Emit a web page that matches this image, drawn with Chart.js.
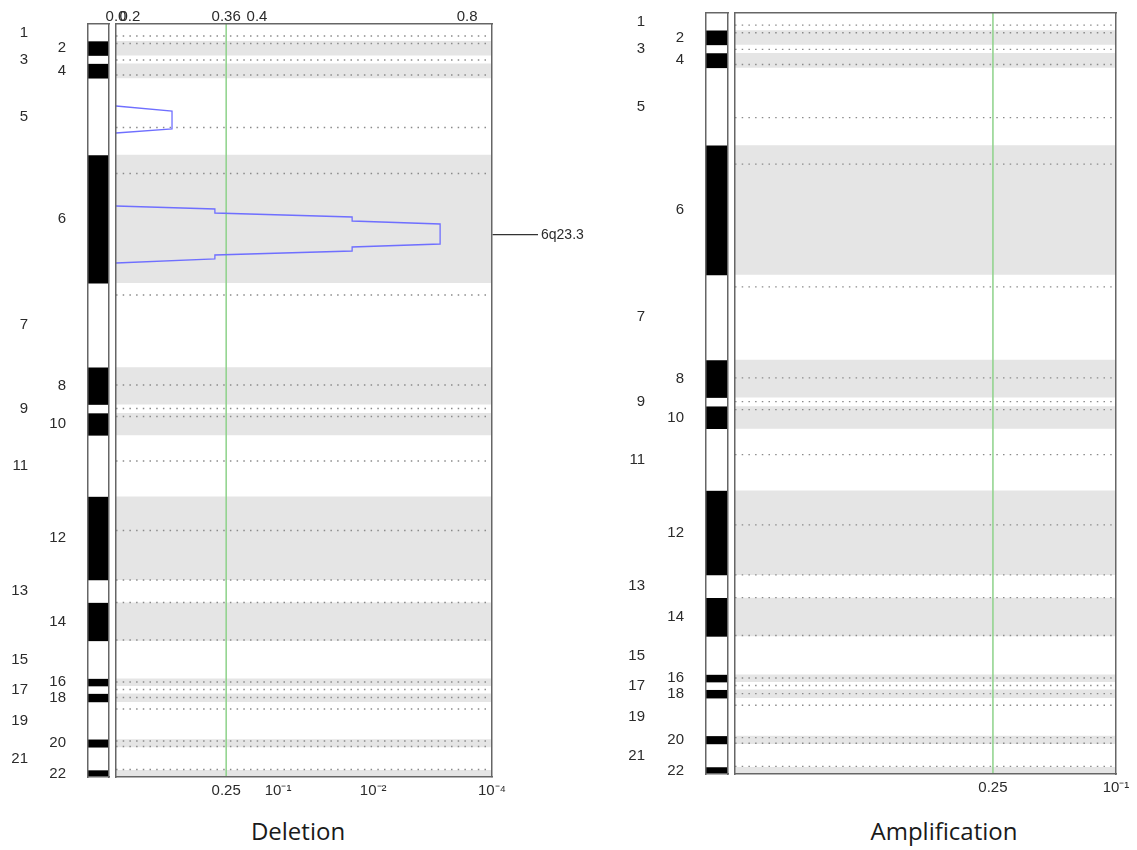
<!DOCTYPE html>
<html>
<head>
<meta charset="utf-8">
<script src="https://cdn.jsdelivr.net/npm/chart.js@4.4.1/dist/chart.umd.min.js"></script>
<style>
  body { margin: 0; background: #fff; width: 1137px; height: 850px; overflow: hidden; position: relative; }
  canvas { position: absolute; top: 0; }
  .panel-title { position: absolute; top: 815px; line-height: 32px; font-family: 'Open Sans', sans-serif; font-size: 24px; color: #1a1a1a; transform: translateX(-50%); white-space: nowrap; }
</style>
</head>
<body>
<canvas id="delIdeo" width="112" height="800" style="left:0px"></canvas>
<canvas id="delPlot" width="500" height="807" style="left:100px"></canvas>
<canvas id="ampIdeo" width="112" height="800" style="left:618px"></canvas>
<canvas id="ampPlot" width="417" height="804" style="left:720px"></canvas>
<div class="panel-title" style="left:298px">Deletion</div>
<div class="panel-title" style="left:944px">Amplification</div>
<script>
// genome laid out top to bottom, in plot units (marker positions)
const chromNames = ['1', '2', '3', '4', '5', '6', '7', '8', '9', '10', '11',
  '12', '13', '14', '15', '16', '17', '18', '19', '20', '21', '22'];
const chromBounds = [0, 17, 31.5, 39.5, 54.2, 130.8, 259.1, 343.2, 380.5, 389, 411.3,
  472.5, 556, 578.5, 616.8, 654.5, 662, 669.5, 677.9, 715.2, 723.2, 746, 753];
const centromerePos = [12, 19.5, 36, 51, 103.5, 149.5, 271, 361, 384.5, 392.5, 437,
  506.5, 556, 578.5, 616, 658, 665.5, 673.5, 685, 717, 722.5, 745.5];
const genomeEnd = 753;

// deletion q-value profile (score axis 0..1, left edge = no signal), null = gap
const delCurvePos = [82, 87, 105, 109, null, 182, 185, 189, 193, 197, 200, 220, 223, 227, 231, 235, 239];
const delCurveScore = [0, 0.149, 0.149, 0, 0, 0, 0.263, 0.263, 0.628, 0.628, 0.862, 0.862, 0.628, 0.628, 0.263, 0.263, 0];

const delTopTicks = [0, 0.037, 0.293, 0.375, 0.934];
const delTopLabels = ['0.0', '0.2', '0.36', '0.4', '0.8'];
const delBottomTicks = [0.293, 0.431, 0.684, 1];
const delBottomLabels = ['0.25', '10⁻¹', '10⁻²', '10⁻⁴'];
const delThreshold = 0.293;
const delPeakPos = [211];
const delPeakLabels = ['6q23.3'];

const ampBottomTicks = [0.677, 1];
const ampBottomLabels = ['0.25', '10⁻¹'];
const ampThreshold = 0.677;

const frameColor = '#666';
const frameWidth = 1.5;
const bandColor = '#e5e5e5';
const labelColor = '#2b2b2b';

Chart.defaults.font.family = "'Liberation Sans', Arial, sans-serif";
Chart.defaults.color = labelColor;

const chromMids = chromNames.map((_, i) => (chromBounds[i] + chromBounds[i + 1]) / 2);
const oddIdx = chromNames.map((_, i) => i).filter((i) => i % 2 === 0);
const evenIdx = chromNames.map((_, i) => i).filter((i) => i % 2 === 1);

function frame() {
  return { display: true, color: frameColor, width: frameWidth, z: 1 };
}

function bareAxis(position, type, size) {
  const horizontal = position === 'top' || position === 'bottom';
  const axis = {
    type,
    position,
    ticks: { display: false },
    grid: { display: false, drawTicks: false },
    border: frame(),
    afterFit: (s) => {
      if (horizontal) s.height = size;
      else s.width = size;
    },
  };
  if (type === 'linear') {
    axis.min = 0;
    axis.max = horizontal ? 1 : genomeEnd;
    if (!horizontal) axis.reverse = true;
  }
  return axis;
}

function labelAxis(indices, pad, width, weight) {
  return {
    type: 'linear',
    position: 'left',
    weight,
    min: 0,
    max: genomeEnd,
    reverse: true,
    grid: { display: false, drawTicks: false },
    border: weight === 0 ? frame() : { display: false },
    ticks: {
      padding: pad,
      autoSkip: false,
      font: { size: 15 },
      callback: (v, i) => chromNames[indices[i]],
    },
    afterBuildTicks: (s) => { s.ticks = indices.map((i) => ({ value: chromMids[i] })); },
    afterFit: (s) => {
      s.width = width;
      // labels sit inside the genome range, no need to shrink the plot for them
      s.paddingTop = 0;
      s.paddingBottom = 0;
    },
  };
}

function makeIdeogram(id, opt) {
  const datasets = chromNames.map((name, i) => ({
    label: 'chr' + name,
    data: [[chromBounds[i], chromBounds[i + 1]]],
    backgroundColor: i % 2 ? '#000' : '#fff',
    borderWidth: 0,
    grouped: false,
    barPercentage: 1,
    categoryPercentage: 1,
    yAxisID: 'yEven',
  }));
  return new Chart(document.getElementById(id), {
    type: 'bar',
    data: { labels: ['genome'], datasets },
    options: {
      responsive: false,
      animation: false,
      events: [],
      layout: { padding: { top: opt.top, bottom: opt.bottom, left: 0, right: opt.right } },
      plugins: { legend: { display: false }, tooltip: { enabled: false } },
      scales: {
        x: bareAxis('bottom', 'category', 0),
        xTop: bareAxis('top', 'linear', 0),
        yEven: labelAxis(evenIdx, opt.evenPad, 42, 0),
        yOdd: labelAxis(oddIdx, opt.oddPad, 46, 1),
        yRight: bareAxis('right', 'linear', 0),
      },
    },
  });
}

function tickAxis(position, ticks, labels, pad, size) {
  return {
    type: 'linear',
    position,
    min: 0,
    max: 1,
    grid: { display: false, drawTicks: false },
    border: frame(),
    ticks: {
      padding: pad,
      autoSkip: false,
      maxRotation: 0,
      font: { size: 15 },
      callback: (v, i) => labels[i],
    },
    afterBuildTicks: (s) => { s.ticks = ticks.map((v) => ({ value: v })); },
    afterFit: (s) => { s.height = size; },
  };
}

function makePlot(id, opt) {
  const datasets = [];
  if (opt.curvePos) {
    datasets.push({
      data: opt.curvePos.map((p, i) => ({ x: opt.curveScore[i], y: p })),
      borderColor: '#6f6fff',
      borderWidth: 1.3,
      pointRadius: 0,
      spanGaps: false,
      fill: false,
      order: 0,
    });
  }
  datasets.push({
    data: [{ x: opt.threshold, y: 0 }, { x: opt.threshold, y: genomeEnd }],
    borderColor: '#8ed28a',
    borderWidth: 1.5,
    pointRadius: 0,
    fill: false,
    order: 1,
  });
  const dots = [];
  centromerePos.forEach((c) => { dots.push({ x: 0, y: c }, { x: 1, y: c }, { x: 1, y: null }); });
  datasets.push({
    data: dots,
    borderColor: '#8a8a8a',
    borderWidth: 1.4,
    borderDash: [1.5, 5.2],
    pointRadius: 0,
    spanGaps: false,
    fill: false,
    order: 2,
  });
  evenIdx.forEach((i) => {
    datasets.push({
      data: [{ x: 0, y: chromBounds[i] }, { x: 1, y: chromBounds[i] }],
      fill: { value: chromBounds[i + 1] },
      backgroundColor: bandColor,
      borderColor: 'rgba(0,0,0,0)',
      borderWidth: 0,
      pointRadius: 0,
      order: 3,
    });
  });

  let yRight = bareAxis('right', 'linear', opt.rightWidth);
  if (opt.peakPos) {
    yRight = {
      type: 'linear',
      position: 'right',
      min: 0,
      max: genomeEnd,
      reverse: true,
      border: frame(),
      grid: { display: true, drawOnChartArea: false, drawTicks: true, tickLength: 46, color: '#333', lineWidth: 1.3 },
      ticks: { padding: 3, autoSkip: false, font: { size: 14 }, callback: (v, i) => opt.peakLabels[i] },
      afterBuildTicks: (s) => { s.ticks = opt.peakPos.map((v) => ({ value: v })); },
      afterFit: (s) => {
        s.width = opt.rightWidth;
        s.paddingTop = 0;
        s.paddingBottom = 0;
      },
    };
  }

  return new Chart(document.getElementById(id), {
    type: 'line',
    data: { datasets },
    options: {
      responsive: false,
      animation: false,
      events: [],
      layout: { padding: { top: opt.top, bottom: 0, left: opt.left, right: 0 } },
      plugins: { legend: { display: false }, tooltip: { enabled: false } },
      scales: {
        x: tickAxis('bottom', opt.bottomTicks, opt.bottomLabels, 5, 30),
        xTop: opt.topTicks ? tickAxis('top', opt.topTicks, opt.topLabels, -2, 24) : bareAxis('top', 'linear', 0),
        yl: bareAxis('left', 'linear', 0),
        y: yRight,
      },
    },
  });
}

makeIdeogram('delIdeo', { top: 24, bottom: 23, right: 3, oddPad: 18, evenPad: 22 });
makePlot('delPlot', {
  top: 0, left: 16, rightWidth: 108,
  curvePos: delCurvePos, curveScore: delCurveScore,
  threshold: delThreshold,
  topTicks: delTopTicks, topLabels: delTopLabels,
  bottomTicks: delBottomTicks, bottomLabels: delBottomLabels,
  peakPos: delPeakPos, peakLabels: delPeakLabels,
});

makeIdeogram('ampIdeo', { top: 13, bottom: 26, right: 2, oddPad: 19, evenPad: 22 });
makePlot('ampPlot', {
  top: 13, left: 15, rightWidth: 21,
  threshold: ampThreshold,
  bottomTicks: ampBottomTicks, bottomLabels: ampBottomLabels,
});
</script>
</body>
</html>
